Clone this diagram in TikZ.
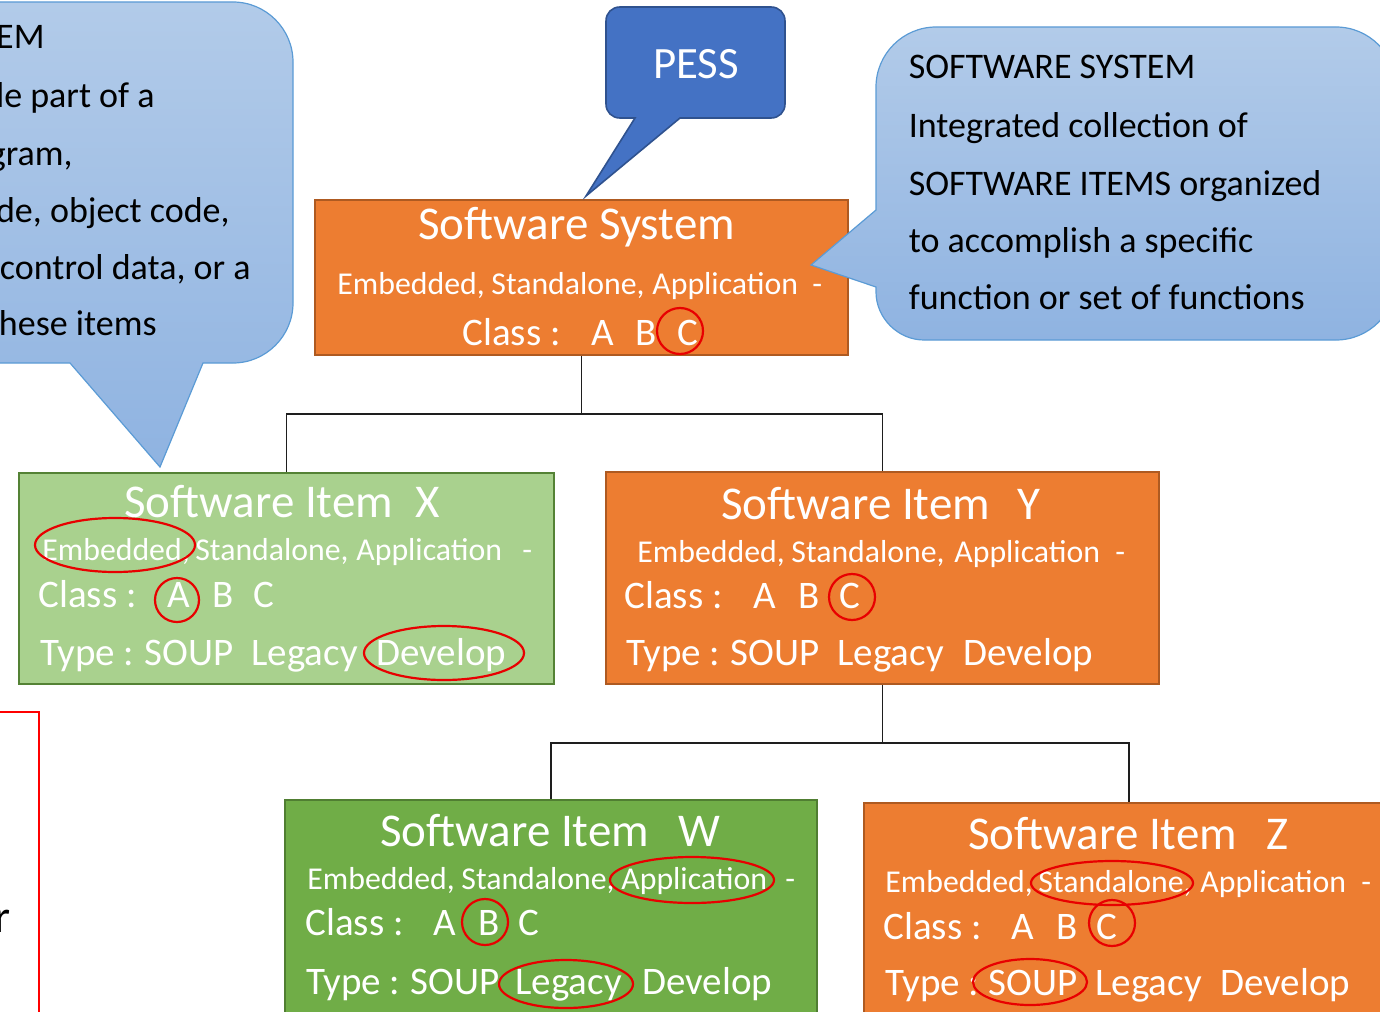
\documentclass[tikz,border=0pt]{standalone}
\usepackage{fontspec}
\setmainfont{Carlito}
\usetikzlibrary{fit}

\definecolor{orangeF}{HTML}{ED7D31}
\definecolor{orangeD}{HTML}{AE5A21}
\definecolor{lgreenF}{HTML}{A9D18E}
\definecolor{lgreenD}{HTML}{548235}
\definecolor{greenF}{HTML}{70AD47}
\definecolor{greenD}{HTML}{507E32}
\definecolor{pessF}{HTML}{4472C4}
\definecolor{pessD}{HTML}{2F528F}
\definecolor{callTop}{HTML}{B2CBE9}
\definecolor{callBot}{HTML}{8FB3E1}
\definecolor{callD}{HTML}{5B9BD5}
\definecolor{markRed}{HTML}{E80000}
\definecolor{wireC}{HTML}{1E1E1E}

% place one word (or word group) with its baseline-left at the given point
\newcommand\wrd[4]{\node[#1] (#2) at (#3) {#4};}

\begin{document}
\begin{tikzpicture}[x=0.5pt,y=-0.5pt,
  wire/.style={draw=wireC, line width=0.75pt},
  obox/.style={fill=orangeF, draw=orangeD, line width=1pt, inner sep=0pt},
  xbox/.style={fill=lgreenF, draw=lgreenD, line width=1pt, inner sep=0pt},
  wbox/.style={fill=greenF, draw=greenD, line width=1pt, inner sep=0pt},
  wtxt/.style={anchor=base west, inner sep=0pt, xshift=-1pt, yshift=-1pt, text=white},
  ttl/.style={wtxt, font=\fontsize{23.5}{28}\selectfont},
  sub/.style={wtxt, font=\fontsize{15.9}{19}\selectfont},
  cls/.style={wtxt, font=\fontsize{19.5}{23}\selectfont},
  redmark/.style={draw=markRed, line width=1.1pt},
  callout/.style={draw=callD, line width=0.6pt, top color=callTop, bottom color=callBot},
  calltxt/.style={inner sep=0pt, yshift=-1pt, text=black, font=\fontsize{18}{22}\selectfont},
  pess/.style={fill=pessF, draw=pessD, line width=0.8pt},
  frame/.style={draw=red, line width=1pt}]

\useasboundingbox (0,0) rectangle (1380,1011);
\clip (0,0) rectangle (1380,1011);

% ---------- boxes ----------
\node[obox, fit={(315,200)(848,355)}] (sys) {};
\node[xbox, fit={(19,473)(554,684)}] (itX) {};
\node[obox, fit={(606,472)(1159,684)}] (itY) {};
\node[wbox, fit={(285,800)(817,1040)}] (itW) {};
\node[obox, fit={(864,803)(1394,1040)}] (itZ) {};

% ---------- tree connectors ----------
\draw[wire] (sys.south) -- ++(0,58) -| (itX.north);
\draw[wire] (sys.south) -- ++(0,58) -| (itY.north);
\draw[wire] (itY.south) -- ++(0,58) -| (itW.north);
\draw[wire] (itY.south) -- ++(0,58) -| (itZ.north);

% ---------- Software System ----------
\wrd{ttl}{sysT}{420,237}{Software System}
\wrd{sub}{sysE}{339,292}{Embedded,}
\wrd{sub}{sysS}{493,292}{Standalone,}
\wrd{sub}{sysA}{654,292}{Application}
\wrd{sub}{sysD}{814,292}{-}
\wrd{cls}{sysC}{464,343}{Class :}
\wrd{cls}{sysCa}{593,343}{A}
\wrd{cls}{sysCb}{637,343}{B}
\wrd{cls}{sysCc}{679,343}{C}
\draw[redmark] (680,331) circle [radius=23];

% ---------- Software Item X ----------
\wrd{ttl}{xT}{126,515}{Software Item}
\wrd{ttl}{xT2}{417,515}{X}
\wrd{sub}{xE}{44,558}{Embedded,}
\wrd{sub}{xS}{197,558}{Standalone,}
\wrd{sub}{xA}{358,558}{Application}
\wrd{sub}{xD}{524,558}{-}
\wrd{cls}{xC}{40,605}{Class :}
\wrd{cls}{xCa}{169,605}{A}
\wrd{cls}{xCb}{214,605}{B}
\wrd{cls}{xCc}{255,605}{C}
\wrd{cls}{xTy}{42,663}{Type :}
\wrd{cls}{xTs}{146,663}{SOUP}
\wrd{cls}{xTl}{253,663}{Legacy}
\wrd{cls}{xTd}{378,663}{Develop}
\draw[redmark] (115,545) ellipse [x radius=80, y radius=27];
\draw[redmark] (177,600) circle [radius=22];
\draw[redmark] (444,653) ellipse [x radius=80, y radius=27];

% ---------- Software Item Y ----------
\wrd{ttl}{yT}{723,517}{Software Item}
\wrd{ttl}{yT2}{1019,517}{Y}
\wrd{sub}{yE}{639,560}{Embedded,}
\wrd{sub}{yS}{793,560}{Standalone,}
\wrd{sub}{yA}{956,560}{Application}
\wrd{sub}{yD}{1117,560}{-}
\wrd{cls}{yC}{626,606}{Class :}
\wrd{cls}{yCa}{755,606}{A}
\wrd{cls}{yCb}{800,606}{B}
\wrd{cls}{yCc}{841,606}{C}
\wrd{cls}{yTy}{628,663}{Type :}
\wrd{cls}{yTs}{732,663}{SOUP}
\wrd{cls}{yTl}{839,663}{Legacy}
\wrd{cls}{yTd}{965,663}{Develop}
\draw[redmark] (852,597) circle [radius=23];

% ---------- Software Item W ----------
\wrd{ttl}{wT}{382,844}{Software Item}
\wrd{ttl}{wT2}{680,844}{W}
\wrd{sub}{wE}{309,887}{Embedded,}
\wrd{sub}{wS}{463,887}{Standalone,}
\wrd{sub}{wA}{623,887}{Application}
\wrd{sub}{wD}{787,887}{-}
\wrd{cls}{wC}{307,933}{Class :}
\wrd{cls}{wCa}{435,933}{A}
\wrd{cls}{wCb}{480,933}{B}
\wrd{cls}{wCc}{520,933}{C}
\wrd{cls}{wTy}{308,992}{Type :}
\wrd{cls}{wTs}{412,992}{SOUP}
\wrd{cls}{wTl}{517,992}{Legacy}
\wrd{cls}{wTd}{644,992}{Develop}
\draw[redmark] (692,880) ellipse [x radius=82, y radius=23];
\draw[redmark] (485,922) circle [radius=23];
\draw[redmark] (566,984) ellipse [x radius=67, y radius=24];

% ---------- Software Item Z ----------
\wrd{ttl}{zT}{970,847}{Software Item}
\wrd{ttl}{zT2}{1268,847}{Z}
\wrd{sub}{zE}{887,890}{Embedded,}
\wrd{sub}{zS}{1040,890}{Standalone,}
\wrd{sub}{zA}{1202,890}{Application}
\wrd{sub}{zD}{1363,890}{-}
\wrd{cls}{zC}{885,937}{Class :}
\wrd{cls}{zCa}{1013,937}{A}
\wrd{cls}{zCb}{1058,937}{B}
\wrd{cls}{zCc}{1098,937}{C}
\wrd{cls}{zTy}{887,993}{Type :}
\wrd{cls}{zTs}{990,993}{SOUP}
\wrd{cls}{zTl}{1097,993}{Legacy}
\wrd{cls}{zTd}{1222,993}{Develop}
\draw[redmark] (1112,883) ellipse [x radius=81, y radius=22];
\draw[redmark] (1112,923) circle [radius=23];
\draw[redmark] (1030,982) ellipse [x radius=57, y radius=23];

% ---------- left callout (software item definition) ----------
\path[callout] (-100,2) -- (233,2) .. controls (266,2) and (293,29) .. (293,62)
  -- (293,303) .. controls (293,336) and (266,363) .. (233,363)
  -- (203,363) -- (160,467) -- (70,363) -- (-100,363) -- cycle;
\node[calltxt, anchor=base east] (lc1) at (45,47) {EM};
\node[calltxt, anchor=base east] (lc2) at (155,105) {le part of a};
\node[calltxt, anchor=base east] (lc3) at (73,163) {gram,};
\node[calltxt, anchor=base east] (lc4) at (230,220) {de, object code,};
\node[calltxt, anchor=base east] (lc5) at (251,277) {control data, or a};
\node[calltxt, anchor=base east] (lc6) at (157,333) {these items};

% ---------- right callout (software system definition) ----------
\path[callout] (936,27) -- (1336,27) .. controls (1369,27) and (1396,54) .. (1396,87)
  -- (1396,280) .. controls (1396,313) and (1369,340) .. (1336,340)
  -- (924,340) .. controls (898,340) and (876,318) .. (876,292)
  -- (876,287) -- (811,265) -- (876,210)
  -- (876,87) .. controls (876,54) and (903,27) .. (936,27) -- cycle;
\node[calltxt, anchor=base west, xshift=-0.8pt] (rc1) at (910,77) {SOFTWARE SYSTEM};
\node[calltxt, anchor=base west, xshift=-0.8pt] (rc2) at (910,135) {Integrated collection of};
\node[calltxt, anchor=base west, xshift=-0.8pt] (rc3) at (910,193) {SOFTWARE ITEMS organized};
\node[calltxt, anchor=base west, xshift=-0.8pt] (rc4) at (910,250) {to accomplish a specific};
\node[calltxt, anchor=base west, xshift=-0.8pt] (rc5) at (910,307) {function or set of functions};

% ---------- PESS callout ----------
\path[pess] (620,7) -- (771,7) .. controls (779,7) and (785,13) .. (785,21)
  -- (785,104) .. controls (785,112) and (779,118) .. (771,118)
  -- (680,118) -- (586,196) -- (635,118)
  -- (620,118) .. controls (612,118) and (606,112) .. (606,104)
  -- (606,21) .. controls (606,13) and (612,7) .. (620,7) -- cycle;
\node[anchor=base, inner sep=0pt, text=white, font=\fontsize{22.4}{26}\selectfont] (pessT) at (696,79) {PESS};

% ---------- red frame at the lower left ----------
\draw[frame] (-10,712) rectangle (39,1040);
\node[calltxt, anchor=base east, font=\fontsize{23}{27}\selectfont] (rr) at (11,930) {r};

\end{tikzpicture}
\end{document}
